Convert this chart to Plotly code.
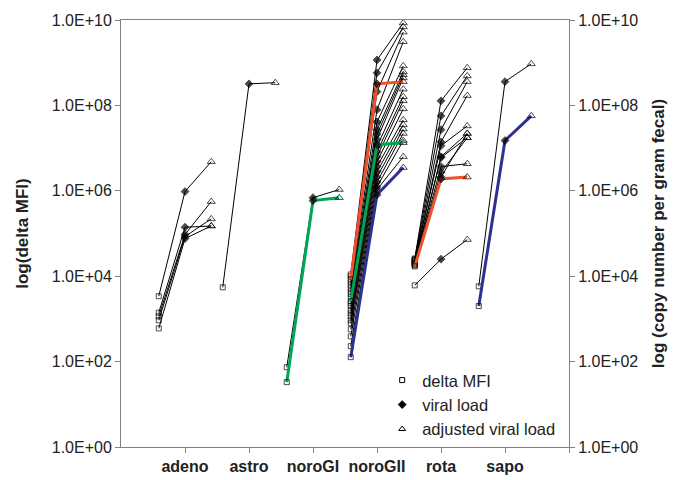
import plotly.graph_objects as go

categories = ["adeno", "astro", "noroGI", "noroGII", "rota", "sapo"]

# delta MFI / viral load / adjusted viral load per sample
adeno_mfi = [3.4e3, 1.4e3, 1.15e3, 930, 600]
adeno_vl = [9.6e5, 1.4e5, 9.5e4, 8.5e4, 7.6e4]
adeno_adj = [4.8e6, 1.5e5, 5.6e5, 2.2e5, 1.5e5]

astro_mfi = [5.5e3]
astro_vl = [3.2e8]
astro_adj = [3.4e8]

noroGI_mfi = [74, 33]
noroGI_vl = [6.9e5, 5.9e5]
noroGI_adj = [1.07e6, 6.9e5]

noroGII_mfi = [1.1e4, 9.9e3, 8.4e3, 7.2e3, 6.1e3, 5.2e3, 4.4e3, 3.8e3, 3.2e3, 2.6e3, 2.3e3,
               2.0e3, 1.6e3, 1.35e3, 1.15e3, 930, 790, 570, 390, 230, 127]
noroGII_vl = [1.16e9, 5.8e8, 3.2e8, 2.1e8, 7.9e7, 4.1e7, 2.7e7, 2.1e7, 1.6e7, 1.2e7, 1.08e7,
              8.2e6, 6.3e6, 4.8e6, 3.7e6, 2.8e6, 2.1e6, 1.6e6, 1.25e6, 1.07e6, 8.1e5]
noroGII_adj = [8.5e9, 6.9e9, 3.6e8, 5.2e9, 3.1e9, 8.4e8, 6.1e8, 5.2e8, 4.4e8, 1.34e7, 2.4e8,
               1.6e8, 1.28e8, 8.3e7, 4.6e7, 3.5e7, 2.8e7, 2.2e7, 1.5e7, 6.3e6, 3.5e6]

rota_mfi = [2.6e4, 2.5e4, 2.4e4, 2.3e4, 2.2e4, 2.1e4, 2.0e4, 2.0e4, 1.9e4, 1.8e4, 1.7e4, 6.1e3]
rota_vl = [1.28e8, 5.7e7, 2.7e7, 1.4e7, 1.14e7, 6.3e6, 6.0e6, 3.7e6, 2.7e6, 2.1e6, 1.9e6, 2.5e4]
rota_adj = [7.6e8, 4.9e8, 3.6e8, 1.7e8, 3.3e7, 2.2e7, 1.75e7, 4.3e6, 1.75e7, 2.2e7, 2.1e6, 7.2e4]

sapo_mfi = [5.8e3, 2.0e3]
sapo_vl = [3.6e8, 1.5e7]
sapo_adj = [9.4e8, 5.7e7]

# samples drawn with a thick coloured line (index within group -> colour)
highlights = {
    "noroGI": {1: "#00a651"},
    "noroGII": {2: "#f0502a", 9: "#00a651", 20: "#2e3192"},
    "rota": {10: "#f0502a"},
    "sapo": {1: "#2e3192"},
}

groups = [
    ("adeno", adeno_mfi, adeno_vl, adeno_adj),
    ("astro", astro_mfi, astro_vl, astro_adj),
    ("noroGI", noroGI_mfi, noroGI_vl, noroGI_adj),
    ("noroGII", noroGII_mfi, noroGII_vl, noroGII_adj),
    ("rota", rota_mfi, rota_vl, rota_adj),
    ("sapo", sapo_mfi, sapo_vl, sapo_adj),
]

offset = 0.41
symbols = ["square-open", "diamond", "triangle-up-open"]
sizes = [5, 6, 7]
font = "Arial, Liberation Sans, sans-serif"

fig = go.Figure()
late = []
for i, (name, mfi, vl, adj) in enumerate(groups):
    cx = i + 1
    for j in range(len(mfi)):
        color = highlights.get(name, {}).get(j)
        tr = go.Scatter(
            x=[cx - offset, cx, cx + offset],
            y=[mfi[j], vl[j], adj[j]],
            mode="lines+markers",
            line=dict(color=color or "black", width=3 if color else 1),
            marker=dict(symbol=symbols, size=sizes, color="black",
                        line=dict(color="black", width=1)),
            showlegend=False,
            hoverinfo="skip",
        )
        if color:
            late.append(tr)
        else:
            fig.add_trace(tr)
for tr in late:
    fig.add_trace(tr)

for label, sym, sz in [("delta MFI", "square-open", 5),
                       ("viral load", "diamond", 6),
                       ("adjusted viral load", "triangle-up-open", 6)]:
    fig.add_trace(go.Scatter(x=[None], y=[None], mode="markers", name=label,
                             marker=dict(symbol=sym, size=sz, color="black",
                                         line=dict(color="black", width=1))))

fig.add_trace(go.Scatter(x=[None], y=[None], yaxis="y2", showlegend=False,
                         hoverinfo="skip"))

tickvals = [1, 1e2, 1e4, 1e6, 1e8, 1e10]
ticktext = ["1.0E+00", "1.0E+02", "1.0E+04", "1.0E+06", "1.0E+08", "1.0E+10"]
yax = dict(
    type="log", range=[0, 10], tickvals=tickvals, ticktext=ticktext,
    showgrid=False, zeroline=False, showline=True, linecolor="#808080",
    ticks="outside", ticklen=5, tickcolor="#808080", automargin=False,
    tickfont=dict(size=16, color="#222", family=font),
)

# page body adds an 8px margin, so the figure is a little smaller than the window
fig.update_layout(
    width=670, height=472,
    margin=dict(l=113, r=109, t=12, b=33),
    plot_bgcolor="white", paper_bgcolor="white",
    font=dict(family=font, color="#222"),
    xaxis=dict(
        range=[0, 7], tickvals=[1, 2, 3, 4, 5, 6, 7],
        ticktext=["<b>%s</b>" % c for c in categories] + [""],
        showgrid=False, zeroline=False, showline=True, mirror=True,
        linecolor="#808080", ticks="outside", ticklen=5, tickcolor="#808080",
        automargin=False,
        tickfont=dict(size=16, color="#222", family=font),
    ),
    yaxis=dict(yax, title=dict(text="<b>log(delta MFI)</b>", standoff=18,
                               font=dict(size=17, family=font))),
    yaxis2=dict(yax, overlaying="y", side="right", anchor="x",
                title=dict(text="<b>log (copy number per gram fecal)</b>", standoff=14,
                           font=dict(size=17, family=font))),
    legend=dict(x=0.583, y=0.197, xanchor="left", yanchor="top",
                bgcolor="rgba(0,0,0,0)", font=dict(size=16.5, family=font),
                itemwidth=30),
)

fig.write_html("out.html")
